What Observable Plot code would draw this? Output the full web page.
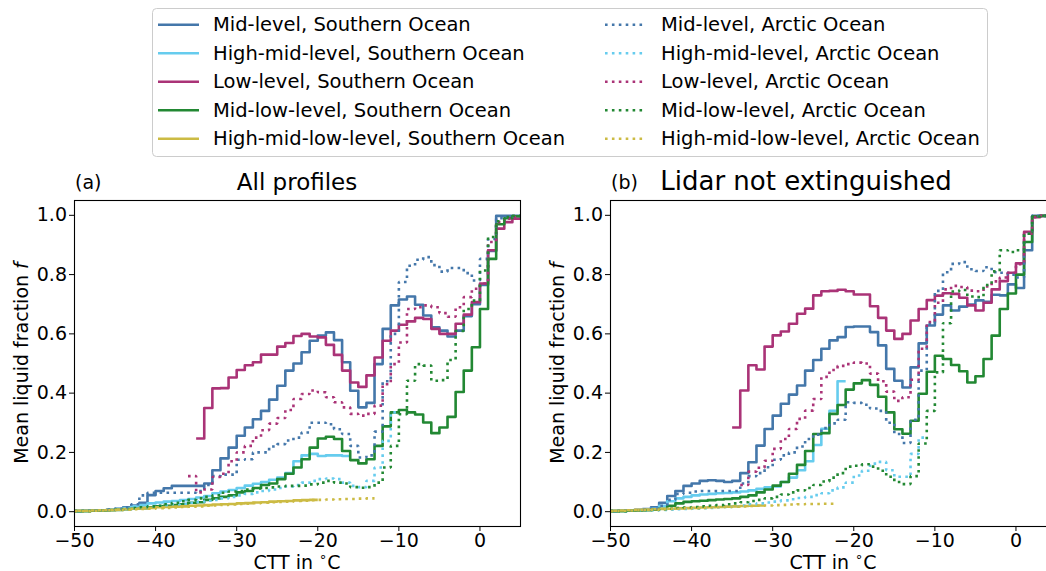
<!DOCTYPE html>
<html><head><meta charset="utf-8">
<script src="https://cdn.jsdelivr.net/npm/d3@7"></script>
<script src="https://cdn.jsdelivr.net/npm/@observablehq/plot@0.6"></script>
<style>
body{margin:0;background:#fff;}
#wrap{position:relative;width:1046px;height:571px;overflow:hidden;background:#fff;font-family:"DejaVu Sans",sans-serif;}
.panel{position:absolute;top:170px;width:530px;height:401px;}
#legend{position:absolute;left:0;top:0;}
</style></head><body><div id="wrap"></div>
<script>
// ---------- categories / ticks ----------
const levels = ["Mid-level","High-mid-level","Low-level","Mid-low-level","High-mid-low-level"];
const regions = ["Southern Ocean","Arctic Ocean"];
const xTicks = [-50,-40,-30,-20,-10,0];
const yTicks = [0,0.2,0.4,0.6,0.8,1.0];
const panelTitles = ["All profiles","Lidar not extinguished"];
const panelTags = ["(a)","(b)"];

// ---------- panel (a): all profiles; values per 1 °C CTT bin, first bin starts at given CTT ----------
const a_SO_start = [-50,-50,-35,-50,-50];
const a_SO_mid = [0.002,0.003,0.004,0.005,0.007,0.01,0.015,
0.021,0.03,0.056,0.07,0.079,0.087,0.087,0.087,0.087,0.095,
0.14,0.18,0.216,0.256,0.284,0.312,0.34,0.378,0.425,0.476,
0.5,0.538,0.577,0.594,0.605,0.579,0.504,0.408,0.352,0.367,
0.498,0.617,0.696,0.716,0.726,0.698,0.662,0.622,0.611,0.591,
0.611,0.66,0.7,0.765,0.88,0.998,0.998,0.998];
const a_SO_highmid = [0.002,0.003,0.004,0.005,0.007,0.009,0.012,
0.018,0.022,0.028,0.031,0.034,0.036,0.039,0.043,0.048,0.053,
0.062,0.068,0.073,0.08,0.088,0.094,0.1,0.108,0.115,0.13,
0.17,0.19,0.195,0.188,0.19,0.19,0.188];
const a_SO_low = [0.247,0.35,
0.416,0.417,0.453,0.478,0.494,0.504,0.53,0.53,0.557,0.569,
0.593,0.6,0.591,0.588,0.563,0.529,0.476,0.436,0.421,0.46,
0.52,0.577,0.611,0.631,0.642,0.654,0.65,0.617,0.6,0.6,
0.634,0.665,0.707,0.77,0.882,0.955,0.977,0.989];
const a_SO_midlow = [0.002,0.002,0.003,0.004,0.005,0.006,0.008,
0.01,0.012,0.015,0.018,0.02,0.022,0.025,0.03,0.032,0.04,
0.045,0.05,0.055,0.065,0.07,0.08,0.09,0.095,0.11,0.128,
0.149,0.177,0.216,0.247,0.253,0.245,0.205,0.174,0.163,0.177,
0.222,0.288,0.335,0.343,0.335,0.328,0.301,0.265,0.284,0.32,
0.404,0.476,0.555,0.684,0.853,0.97,0.99,0.997];
const a_SO_highmidlow = [0.003,0.003,0.004,0.005,0.006,0.007,0.009,
0.01,0.012,0.013,0.015,0.016,0.017,0.018,0.02,0.021,0.022,
0.024,0.025,0.026,0.028,0.029,0.031,0.032,0.034,0.035,0.036,
0.038,0.039,0.04];

const a_AO_start = [-50,-50,-36,-50,-50];
const a_AO_mid = [0.002,0.003,0.004,0.005,0.007,0.01,0.015,
0.025,0.055,0.064,0.064,0.064,0.064,0.064,0.064,0.07,0.09,
0.12,0.125,0.125,0.175,0.177,0.2,0.2,0.22,0.228,0.24,
0.25,0.267,0.3,0.3,0.295,0.278,0.262,0.222,0.183,0.19,
0.27,0.44,0.6,0.775,0.83,0.85,0.859,0.832,0.81,0.822,
0.822,0.805,0.78,0.853,0.92,0.99,0.995,0.995];
const a_AO_highmid = [0.002,0.002,0.003,0.004,0.005,0.007,0.009,
0.012,0.015,0.018,0.02,0.022,0.025,0.027,0.03,0.033,0.037,
0.04,0.045,0.05,0.055,0.06,0.065,0.07,0.075,0.08,0.085,
0.09,0.098,0.104,0.11,0.112,0.11,0.098,0.087,0.083,0.104,
0.149,0.239,0.335];
const a_AO_low = [0.12,0.065,0.075,
0.117,0.128,0.17,0.2,0.222,0.25,0.275,0.297,0.316,0.343,
0.38,0.397,0.409,0.403,0.386,0.369,0.352,0.33,0.324,0.33,
0.358,0.43,0.498,0.571,0.684,0.69,0.696,0.69,0.67,0.658,
0.69,0.724,0.752,0.77,0.91,0.977,0.989,0.994];
const a_AO_midlow = [0.002,0.002,0.003,0.004,0.005,0.007,0.009,
0.012,0.015,0.018,0.02,0.025,0.03,0.035,0.04,0.045,0.05,
0.055,0.064,0.068,0.07,0.075,0.078,0.08,0.082,0.085,0.087,
0.087,0.088,0.092,0.098,0.104,0.098,0.095,0.083,0.081,0.083,
0.098,0.149,0.222,0.329,0.442,0.498,0.493,0.442,0.444,0.512,
0.61,0.684,0.712,0.814,0.927,0.98,0.994,0.998];
const a_AO_highmidlow = [0.002,0.002,0.003,0.004,0.005,0.006,0.007,
0.008,0.009,0.01,0.012,0.013,0.014,0.016,0.017,0.018,0.02,
0.021,0.023,0.024,0.026,0.027,0.029,0.03,0.032,0.033,0.034,
0.036,0.037,0.039,0.04,0.041,0.042,0.043,0.043,0.044,0.045];

// ---------- panel (b): lidar not extinguished ----------
const b_SO_start = [-50,-50,-35,-50,-50];
const b_SO_mid = [0.002,0.003,0.004,0.006,0.009,0.015,0.03,
0.053,0.07,0.087,0.095,0.104,0.106,0.104,0.1,0.104,0.13,
0.167,0.223,0.279,0.324,0.364,0.395,0.426,0.476,0.512,0.55,
0.578,0.589,0.623,0.625,0.625,0.606,0.561,0.482,0.442,0.419,
0.487,0.568,0.628,0.665,0.696,0.679,0.692,0.699,0.713,0.708,
0.732,0.73,0.767,0.755,0.882,0.998,0.998,0.998];
const b_SO_highmid = [0.002,0.003,0.004,0.005,0.007,0.01,0.02,
0.035,0.045,0.05,0.055,0.058,0.06,0.062,0.063,0.065,0.068,
0.072,0.077,0.082,0.085,0.1,0.115,0.14,0.17,0.225,0.28,
0.34,0.44];
const b_SO_low = [0.284,0.409,
0.494,0.48,0.557,0.595,0.608,0.634,0.668,0.685,0.73,0.744,
0.745,0.749,0.744,0.733,0.733,0.693,0.654,0.611,0.583,0.6,
0.645,0.684,0.714,0.729,0.737,0.735,0.722,0.696,0.679,0.705,
0.75,0.778,0.806,0.838,0.944,0.994,0.998,0.998];
const b_SO_midlow = [0.002,0.002,0.003,0.004,0.005,0.007,0.01,
0.02,0.028,0.033,0.035,0.037,0.039,0.041,0.043,0.045,0.05,
0.055,0.065,0.075,0.088,0.1,0.128,0.158,0.205,0.262,0.265,
0.33,0.36,0.412,0.433,0.444,0.428,0.388,0.335,0.278,0.263,
0.307,0.398,0.472,0.526,0.515,0.495,0.474,0.436,0.457,0.515,
0.594,0.684,0.736,0.8,0.91,0.997,0.998,0.998];
const b_SO_highmidlow = [0.003,0.004,0.005,0.006,0.007,0.008,0.009,
0.01,0.011,0.012,0.013,0.014,0.015,0.016,0.017,0.018,0.019,
0.02,0.021];

const b_AO_start = [-50,-50,-34,-50,-50];
const b_AO_mid = [0.002,0.003,0.004,0.005,0.007,0.01,0.02,
0.04,0.06,0.064,0.068,0.07,0.07,0.07,0.07,0.07,0.095,
0.12,0.13,0.15,0.175,0.19,0.2,0.22,0.245,0.26,0.282,
0.298,0.31,0.369,0.367,0.361,0.348,0.34,0.3,0.262,0.232,
0.31,0.476,0.634,0.745,0.808,0.836,0.842,0.818,0.812,0.825,
0.808,0.806,0.8,0.79,0.938,0.998,0.998,0.998];
const b_AO_highmid = [0.002,0.002,0.003,0.003,0.004,0.005,0.006,
0.007,0.008,0.009,0.01,0.012,0.013,0.015,0.016,0.018,0.021,
0.025,0.028,0.031,0.034,0.038,0.042,0.046,0.05,0.056,0.062,
0.072,0.082,0.098,0.122,0.138,0.162,0.168,0.14,0.118,0.118,
0.195,0.25];
const b_AO_low = [0.09,
0.135,0.148,0.172,0.212,0.245,0.279,0.313,0.341,0.38,0.455,
0.478,0.492,0.498,0.503,0.5,0.466,0.44,0.405,0.374,0.386,
0.445,0.55,0.64,0.705,0.75,0.762,0.758,0.746,0.744,0.76,
0.777,0.79,0.806,0.835,0.938,0.994,0.998,0.998];
const b_AO_midlow = [0.002,0.002,0.003,0.004,0.005,0.006,0.008,
0.01,0.012,0.014,0.016,0.018,0.02,0.022,0.025,0.028,0.032,
0.036,0.04,0.045,0.05,0.058,0.065,0.072,0.08,0.09,0.102,
0.115,0.13,0.152,0.155,0.16,0.152,0.138,0.118,0.1,0.093,
0.12,0.23,0.34,0.47,0.636,0.743,0.748,0.726,0.724,0.765,
0.811,0.882,0.876,0.882,0.938,0.996,0.998,0.998];
const b_AO_highmidlow = [0.002,0.003,0.004,0.005,0.006,0.007,0.008,
0.009,0.01,0.011,0.012,0.013,0.014,0.015,0.016,0.017,0.018,
0.019,0.02,0.021,0.022,0.023,0.024,0.025,0.026,0.026,0.027,
0.027];

// ---------- styles ----------
const levelColors = ["#4477AA","#66CCEE","#AA3377","#228833","#CCBB44"];
const LW = 2.6, DOTS = "2.6,4.3";
const FONT = "DejaVu Sans";
const fmtX = d => String(d).replace("-", "\u2212");
const titleStyle = [{size: 23, cx: null}, {size: 26, cx: 270}];

// stairs: each value covers [t, t+1); final edge repeats last value
function stairs(start, vals, level, region){
  const key = level + "|" + region;
  const pts = vals.map((f,i)=>({t:start+i, f, level, region, key}));
  pts.push({t:start+vals.length, f:vals[vals.length-1], level, region, key});
  return pts;
}

const wrap = document.getElementById("wrap");

function makePanel(idx, soVals, soStart, aoVals, aoStart, left){
  const so = levels.flatMap((l,i)=>stairs(soStart[i], soVals[i], l, regions[0]));
  const ao = levels.flatMap((l,i)=>stairs(aoStart[i], aoVals[i], l, regions[1]));
  const W = 530, H = 401, ML = 74, MR = 10, MT = 30, MB = 45;
  const svg = Plot.plot({
    width: W, height: H, marginLeft: ML, marginRight: MR, marginTop: MT, marginBottom: MB,
    style: {fontSize: "19px", fontFamily: FONT, color: "#000", background: "transparent", maxWidth: "none", overflow: "visible"},
    x: {domain: [-50, 5], ticks: xTicks, tickFormat: fmtX, tickSize: 5, tickPadding: 1.5, label: null},
    y: {domain: [-0.05, 1.05], ticks: yTicks, tickFormat: d => d.toFixed(1), tickSize: 5, tickPadding: 2.5, label: null},
    color: {domain: levels, range: levelColors},
    marks: [
      Plot.line(so, {x: "t", y: "f", z: "key", stroke: "level", strokeWidth: LW, curve: "step-after",
        strokeLinecap: "butt", strokeLinejoin: "round"}),
      Plot.line(ao, {x: "t", y: "f", z: "key", stroke: "level", strokeWidth: LW, strokeDasharray: DOTS, curve: "step-after",
        strokeLinecap: "butt", strokeLinejoin: "miter"}),
      Plot.frame({stroke: "#000", strokeWidth: 1.1})
    ]
  });
  const s = d3.select(svg);
  const cx = (ML + (W - MR)) / 2, cy = (MT + (H - MB)) / 2;
  // titles
  const ts = titleStyle[idx];
  s.append("text").attr("x", ts.cx ?? cx).attr("y", 20).attr("text-anchor","middle")
    .style("font-size", ts.size + "px").style("font-family",FONT).attr("fill","#000").text(panelTitles[idx]);
  s.append("text").attr("x", ML + 1).attr("y", 19).attr("text-anchor","start")
    .style("font-size","19px").style("font-family",FONT).attr("fill","#000").text(panelTags[idx]);
  // y label
  const yl = s.append("text").attr("transform", `translate(21,${cy}) rotate(-90)`)
    .attr("text-anchor","middle").attr("dominant-baseline","central")
    .style("font-size","19px").style("font-family",FONT).attr("fill","#000");
  yl.append("tspan").text("Mean liquid fraction ");
  yl.append("tspan").style("font-style","italic").text("f");
  // x label
  const xl = s.append("text").attr("x", cx).attr("y", H - 2.5).attr("text-anchor","middle")
    .style("font-size","19px").style("font-family",FONT).attr("fill","#000");
  xl.append("tspan").text("CTT in ");
  xl.append("tspan").attr("dy", -8).style("font-size","13px").text("\u2218");
  xl.append("tspan").attr("dy", 8).text("C");
  const div = document.createElement("div");
  div.className = "panel";
  div.style.left = left + "px";
  div.appendChild(svg);
  wrap.appendChild(div);
}

makePanel(0,
  [a_SO_mid, a_SO_highmid, a_SO_low, a_SO_midlow, a_SO_highmidlow], a_SO_start,
  [a_AO_mid, a_AO_highmid, a_AO_low, a_AO_midlow, a_AO_highmidlow], a_AO_start, 0);
makePanel(1,
  [b_SO_mid, b_SO_highmid, b_SO_low, b_SO_midlow, b_SO_highmidlow], b_SO_start,
  [b_AO_mid, b_AO_highmid, b_AO_low, b_AO_midlow, b_AO_highmidlow], b_AO_start, 536);

// ---------- legend ----------
const leg = d3.create("svg").attr("width",1046).attr("height",170).attr("id","legend");
leg.append("rect").attr("x",152.5).attr("y",8.5).attr("width",835).attr("height",148)
  .attr("rx",4).attr("fill","#fff").attr("stroke","#cccccc").attr("stroke-width",1);
const rowY = [24.8, 53.3, 81.7, 110.2, 138.7];
const cols = [{x1:158, x2:199, tx:213, region:regions[0], dash:null},
              {x1:605, x2:644, tx:661, region:regions[1], dash:DOTS}];
cols.forEach(c => {
  levels.forEach((l,i) => {
    const ln = leg.append("line").attr("x1",c.x1).attr("x2",c.x2).attr("y1",rowY[i]).attr("y2",rowY[i])
      .attr("stroke", levelColors[i]).attr("stroke-width", LW).attr("stroke-linecap","butt");
    if (c.dash) ln.attr("stroke-dasharray", c.dash);
    leg.append("text").attr("x", c.tx).attr("y", rowY[i]).attr("dominant-baseline","central")
      .style("font-size","19.5px").style("font-family",FONT).attr("fill","#000")
      .text(`${l}, ${c.region}`);
  });
});
wrap.appendChild(leg.node());
</script>
</body></html>
